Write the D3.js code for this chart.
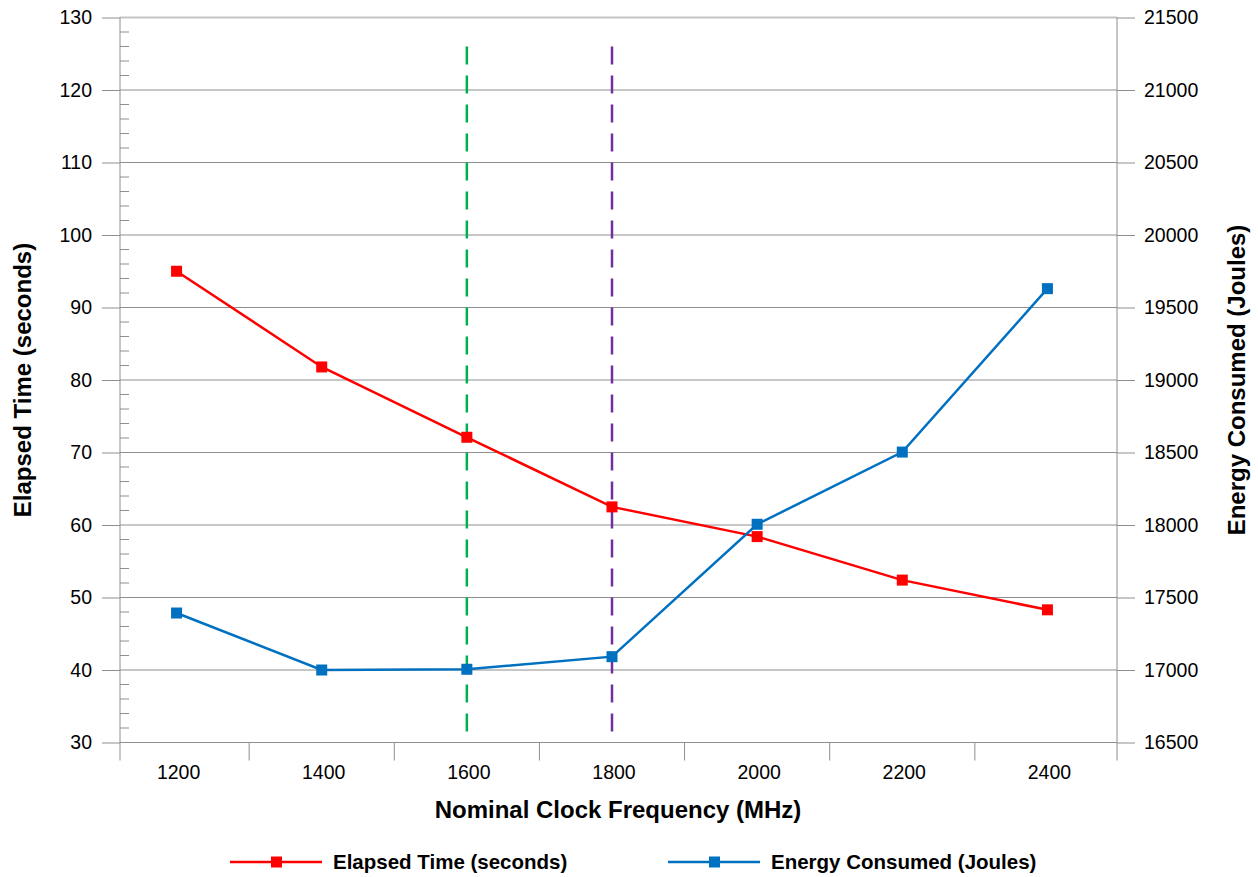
<!DOCTYPE html>
<html>
<head>
<meta charset="utf-8">
<script src="https://cdn.jsdelivr.net/npm/d3@7"></script>
<style>
    body { margin: 0; background: #fff; }
    #chart { width: 1258px; height: 877px; }
    text { font-family: "Liberation Sans", Arial, sans-serif; fill: #000; }
</style>
</head>
<body>
<div id="chart"></div>
<script>
!(function(){
    "use strict"

    // data
    var frequencies = ["1200", "1400", "1600", "1800", "2000", "2200", "2400"]
    var elapsedTime = [95.0, 81.8, 72.1, 62.5, 58.4, 52.4, 48.3]
    var energyUsed = [17393, 17000, 17005, 17092, 18005, 18503, 19630]
    var timeTicks = [30, 40, 50, 60, 70, 80, 90, 100, 110, 120, 130]
    var energyTicks = [16500, 17000, 17500, 18000, 18500, 19000, 19500, 20000, 20500, 21000, 21500]
    var markerFreqs = ["1600", "1800"]
    var markerSpan = [31.3, 126]   // in elapsed-time units

    var width = 1258, height = 877
    var left = 120, right = 1117, top = 17.5, bottom = 742.5
    var gridColor = "#8e8e8e"

    var svg = d3.select("#chart").append("svg")
        .attr("width", width)
        .attr("height", height)

    var x = d3.scaleBand()
        .domain(frequencies)
        .range([104, 1120])
        .padding(0)

    var yTime = d3.scaleLinear().domain([30, 130]).range([bottom, top])
    var yEnergy = d3.scaleLinear().domain([16500, 21500]).range([bottom, top])

    function cx(f) { return x(f) + x.bandwidth()/2 }

    // gridlines
    svg.append("g").selectAll("line")
        .data(timeTicks)
        .enter().append("line")
        .attr("x1", left).attr("x2", right)
        .attr("y1", function(d){ return yTime(d) })
        .attr("y2", function(d){ return yTime(d) })
        .attr("stroke", function(d){ return d == 130 ? "#c4c4c4" : gridColor })
        .attr("stroke-width", function(d){ return d == 130 ? 2 : 1 })

    // minor ticks (inside, left axis)
    var minor = d3.range(32, 130, 2).filter(function(d){ return d % 10 != 0 })
    svg.append("g").selectAll("line")
        .data(minor)
        .enter().append("line")
        .attr("x1", left).attr("x2", left + 9)
        .attr("y1", function(d){ return yTime(d) })
        .attr("y2", function(d){ return yTime(d) })
        .attr("stroke", gridColor)

    // left axis
    var leftAxis = svg.append("g")
        .attr("transform", "translate(" + left + ",0)")
        .call(d3.axisLeft(yTime).tickValues(timeTicks).tickSize(18).tickPadding(10))
    leftAxis.select(".domain").remove()
    leftAxis.selectAll(".tick line").attr("stroke", gridColor)
    leftAxis.selectAll(".tick text").attr("font-size", 19.5)
        .attr("font-family", "Liberation Sans, Arial, sans-serif")
    leftAxis.append("line")
        .attr("y1", top).attr("y2", bottom + 18)
        .attr("stroke", gridColor)

    // right axis
    var rightAxis = svg.append("g")
        .attr("transform", "translate(" + right + ",0)")
        .call(d3.axisRight(yEnergy).tickValues(energyTicks).tickSize(18).tickPadding(9)
            .tickFormat(d3.format("d")))
    rightAxis.select(".domain").remove()
    rightAxis.selectAll(".tick line").attr("stroke", gridColor)
    rightAxis.selectAll(".tick text").attr("font-size", 19.5)
        .attr("font-family", "Liberation Sans, Arial, sans-serif")
    rightAxis.append("line")
        .attr("y1", top).attr("y2", bottom + 18)
        .attr("stroke", gridColor)

    // x axis: ticks between categories, labels at centres
    svg.append("g").selectAll("line")
        .data(frequencies.slice(1))
        .enter().append("line")
        .attr("x1", function(d){ return x(d) })
        .attr("x2", function(d){ return x(d) })
        .attr("y1", bottom).attr("y2", bottom + 18)
        .attr("stroke", gridColor)

    svg.append("g").selectAll("text")
        .data(frequencies)
        .enter().append("text")
        .attr("x", function(d){ return cx(d) + 2 })
        .attr("y", 779)
        .attr("text-anchor", "middle")
        .attr("font-size", 19.5)
        .text(function(d){ return d })

    // dashed reference lines
    var markerColors = ["#00b050", "#7030a0"]
    svg.append("g").selectAll("line")
        .data(markerFreqs)
        .enter().append("line")
        .attr("x1", function(d){ return cx(d) })
        .attr("x2", function(d){ return cx(d) })
        .attr("y1", yTime(markerSpan[1]))
        .attr("y2", yTime(markerSpan[0]))
        .attr("stroke", function(d, i){ return markerColors[i] })
        .attr("stroke-width", 2.5)
        .attr("stroke-dasharray", "18,11")

    // series
    var series = [
        { name: "Elapsed Time (seconds)", values: elapsedTime, y: yTime, color: "#ff0000" },
        { name: "Energy Consumed (Joules)", values: energyUsed, y: yEnergy, color: "#0070c0" }
    ]

    series.forEach(function(s) {
        var line = d3.line()
            .x(function(d, i){ return cx(frequencies[i]) })
            .y(function(d){ return s.y(d) })

        svg.append("path")
            .datum(s.values)
            .attr("d", line)
            .attr("fill", "none")
            .attr("stroke", s.color)
            .attr("stroke-width", 2.5)

        svg.append("g").selectAll("rect")
            .data(s.values)
            .enter().append("rect")
            .attr("x", function(d, i){ return cx(frequencies[i]) - 5.5 })
            .attr("y", function(d){ return s.y(d) - 5.5 })
            .attr("width", 11).attr("height", 11)
            .attr("fill", s.color)
    })

    // axis titles
    svg.append("text")
        .attr("x", 618).attr("y", 818)
        .attr("text-anchor", "middle")
        .attr("font-size", 24).attr("font-weight", "bold")
        .text("Nominal Clock Frequency (MHz)")

    svg.append("text")
        .attr("transform", "translate(31,380) rotate(-90)")
        .attr("text-anchor", "middle")
        .attr("font-size", 24).attr("font-weight", "bold")
        .text("Elapsed Time (seconds)")

    svg.append("text")
        .attr("transform", "translate(1245,380) rotate(-90)")
        .attr("text-anchor", "middle")
        .attr("font-size", 24).attr("font-weight", "bold")
        .text("Energy Consumed (Joules)")

    // legend
    var legendX = [230, 668]
    var legend = svg.append("g").selectAll("g")
        .data(series)
        .enter().append("g")
        .attr("transform", function(d, i){ return "translate(" + legendX[i] + ",862)" })

    legend.append("line")
        .attr("x1", 0).attr("x2", 92)
        .attr("stroke", function(d){ return d.color })
        .attr("stroke-width", 2.5)
    legend.append("rect")
        .attr("x", 41).attr("y", -5.5)
        .attr("width", 11).attr("height", 11)
        .attr("fill", function(d){ return d.color })
    legend.append("text")
        .attr("x", 103).attr("y", 7)
        .attr("font-size", 20.5).attr("font-weight", "bold")
        .text(function(d){ return d.name })
}());
</script>
</body>
</html>
